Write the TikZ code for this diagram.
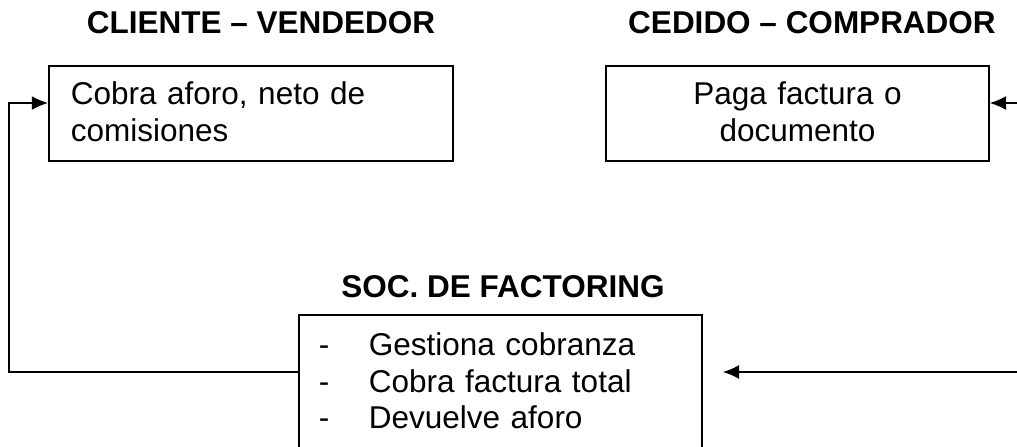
\documentclass[tikz,border=0pt]{standalone}
\usepackage{fontspec}
\setmainfont{Liberation Sans}
\usetikzlibrary{arrows.meta}

\begin{document}
\begin{tikzpicture}[x=0.4pt,y=-0.4pt,
  titulo/.style={font=\bfseries\fontsize{12.6pt}{14.6pt}\selectfont,anchor=base,inner sep=0pt},
  caja/.style={draw,line width=0.75pt,inner ysep=0pt,anchor=north west,
    font=\fontsize{12.6pt}{14.6pt}\selectfont},
  flecha/.style={line width=0.5pt,-{Latex[length=6.5pt,width=5.6pt]}}]
\useasboundingbox (0,0) rectangle (1017,446);
\clip (0,0) rectangle (1017,446);

% titulos
\node[titulo] (tcli) at (261,34) {CLIENTE -- VENDEDOR};
\node[titulo] (tced) at (812,34) {CEDIDO -- COMPRADOR};
\node[titulo] (tfac) at (503,297) {SOC. DE FACTORING};

% cajas
\node[caja,text width=144pt,inner xsep=8.8pt,align=left,text height=15.6pt,text depth=22.4pt]
  (cli) at (48,65) {Cobra aforo, neto de\\comisiones};
\node[caja,text width=135.6pt,inner xsep=8.8pt,align=center,text height=15.6pt,text depth=22.4pt]
  (ced) at (605,65) {Paga factura o\\documento};
\node[caja,text width=145.2pt,inner xsep=8pt,align=left,text height=16.4pt,text depth=43.6pt]
  (fac) at (298,314) {\makebox[20pt][l]{-}Gestiona cobranza\\
  \makebox[20pt][l]{-}Cobra factura total\\
  \makebox[20pt][l]{-}Devuelve aforo};

% flechas
\coordinate (izqB) at (9,372);
\coordinate (izqA) at (9,103);
\coordinate (derA) at (1017,103);
\coordinate (derB) at (1017,372);
\coordinate (facIn) at ([xshift=8pt]fac.east);
\draw[flecha] (fac.west |- izqB) -- (izqB) -- (izqA) -- (cli.west |- izqA);
\draw[flecha] (derA) -- (ced.east |- derA);
\draw[flecha] (derB) -- (facIn |- derB);
\end{tikzpicture}
\end{document}
